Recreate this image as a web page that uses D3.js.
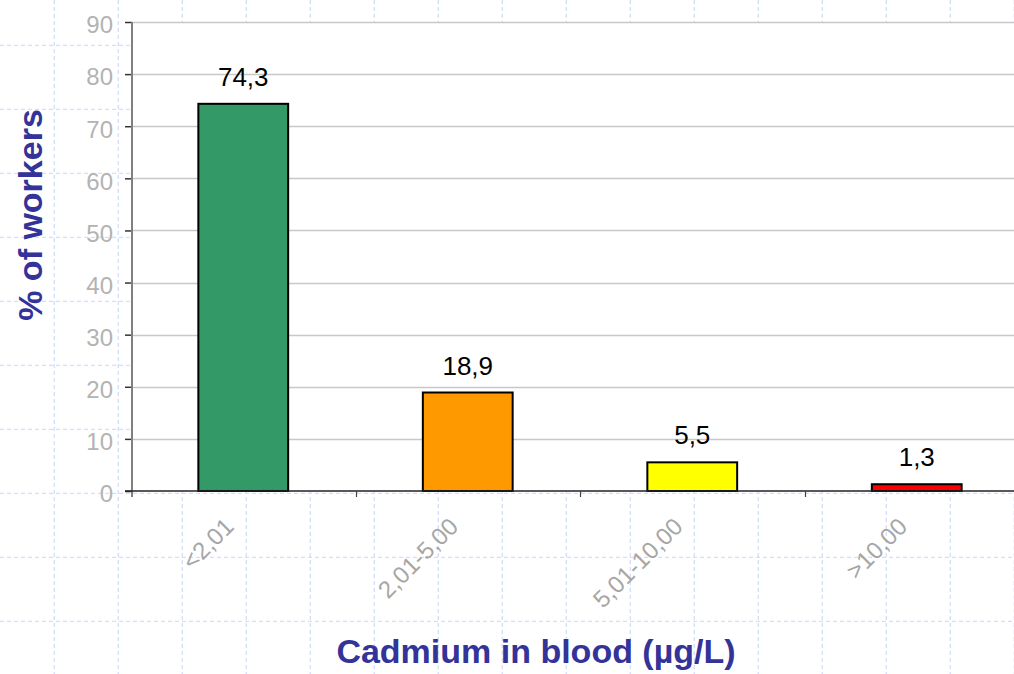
<!DOCTYPE html>
<html lang="en">
  <head>
    <meta charset="utf-8">
    <title>Cadmium in blood</title>
    <script src="https://d3js.org/d3.v7.min.js"></script>
    <style type="text/css">
      body {
        margin: 0;
        background: white;
        font-family: "Liberation Sans", Arial, sans-serif;
      }
      .title {
        fill: #333399;
        font-weight: bold;
        font-size: 34px;
      }
    </style>
  </head>
  <body>
    <script>
      var width = 1014;
      var height = 674;

      // chart data
      var categories = ["<2,01", "2,01-5,00", "5,01-10,00", ">10,00"];
      var values = [74.3, 18.9, 5.5, 1.3];
      var barColors = ["#339966", "#ff9900", "#ffff00", "#ff0000"];
      var yTicks = [0, 10, 20, 30, 40, 50, 60, 70, 80, 90];

      var plotLeft = 132, plotTop = 22, plotBottom = 491;

      var svg = d3.select("body")
        .append("svg")
        .attr("width", width)
        .attr("height", height);

      // slide background: pale dashed grid
      var bg = svg.append("g");
      bg.selectAll("line.v")
        .data(d3.range(-10, width + 64, 64))
        .enter()
        .append("line")
        .attr("x1", function(d) { return d + 0.3; })
        .attr("x2", function(d) { return d + 0.3; })
        .attr("y1", 0)
        .attr("y2", height)
        .attr("stroke", "#d3defd")
        .attr("stroke-width", 1.3)
        .attr("stroke-dasharray", "4,3");
      bg.selectAll("line.h")
        .data(d3.range(-19, height + 64, 64))
        .enter()
        .append("line")
        .attr("y1", function(d) { return d + 0.3; })
        .attr("y2", function(d) { return d + 0.3; })
        .attr("x1", 0)
        .attr("x2", width)
        .attr("stroke", "#d3defd")
        .attr("stroke-width", 1.3)
        .attr("stroke-dasharray", "4,3");

      // scales
      var y = d3.scaleLinear().domain([0, 90]).range([plotBottom, plotTop]);
      var x = d3.scaleBand().domain(categories).range([131, 1029]).padding(0);

      // plot area
      svg.append("rect")
        .attr("x", plotLeft)
        .attr("y", plotTop)
        .attr("width", width - plotLeft)
        .attr("height", plotBottom - plotTop)
        .attr("fill", "white");

      // horizontal gridlines
      svg.append("g")
        .selectAll("line")
        .data(yTicks.slice(1))
        .enter()
        .append("line")
        .attr("x1", plotLeft)
        .attr("x2", width)
        .attr("y1", function(d) { return Math.round(y(d)) + 0.5; })
        .attr("y2", function(d) { return Math.round(y(d)) + 0.5; })
        .attr("stroke", "#c8c8c8")
        .attr("stroke-width", 1.5);

      // bars
      var bw = x.bandwidth() * 0.4;
      svg.append("g")
        .selectAll("rect")
        .data(values)
        .enter()
        .append("rect")
        .attr("x", function(d, i) { return x(categories[i]) + (x.bandwidth() - bw) / 2; })
        .attr("y", function(d) { return y(d); })
        .attr("width", bw)
        .attr("height", function(d) { return plotBottom - y(d); })
        .attr("fill", function(d, i) { return barColors[i]; })
        .attr("stroke", "black")
        .attr("stroke-width", 2);

      // value labels
      svg.append("g")
        .selectAll("text")
        .data(values)
        .enter()
        .append("text")
        .attr("x", function(d, i) { return x(categories[i]) + x.bandwidth() / 2; })
        .attr("y", function(d) { return y(d) - 18; })
        .attr("text-anchor", "middle")
        .attr("font-size", "26px")
        .attr("fill", "black")
        .text(function(d) { return String(d).replace(".", ","); });

      // y axis
      var yAxis = svg.append("g")
        .attr("transform", "translate(" + plotLeft + ",0)")
        .call(d3.axisLeft(y).tickValues(yTicks).tickSize(7).tickSizeOuter(0).tickPadding(12));
      yAxis.select(".domain").remove();
      yAxis.selectAll(".tick line").attr("stroke", "#333").attr("stroke-width", 1.5);
      yAxis.selectAll(".tick text")
        .attr("fill", "#b3b3b3")
        .attr("font-size", "24px")
        .attr("font-family", "Liberation Sans, Arial, sans-serif")
        .attr("dy", "0.45em");
      svg.append("line")
        .attr("x1", plotLeft).attr("x2", plotLeft)
        .attr("y1", plotTop).attr("y2", plotBottom + 6)
        .attr("stroke", "#808080")
        .attr("stroke-width", 2);

      // x axis
      svg.append("line")
        .attr("x1", 125).attr("x2", width)
        .attr("y1", plotBottom).attr("y2", plotBottom)
        .attr("stroke", "#222")
        .attr("stroke-width", 1.5);
      svg.append("g")
        .selectAll("line")
        .data(categories.slice(1))
        .enter()
        .append("line")
        .attr("x1", function(d) { return Math.round(x(d)) + 0.5; })
        .attr("x2", function(d) { return Math.round(x(d)) + 0.5; })
        .attr("y1", plotBottom)
        .attr("y2", plotBottom + 6)
        .attr("stroke", "#444")
        .attr("stroke-width", 1.2);

      svg.append("g")
        .selectAll("text")
        .data(categories)
        .enter()
        .append("text")
        .attr("transform", function(d) {
          return "translate(" + (x(d) + x.bandwidth() / 2 - 8) + ",528) rotate(-45)";
        })
        .attr("text-anchor", "end")
        .attr("font-size", "24px")
        .attr("fill", "#a6a6a6")
        .text(function(d) { return d; });

      // axis titles
      svg.append("text")
        .attr("class", "title")
        .attr("transform", "translate(42,215) rotate(-90)")
        .attr("text-anchor", "middle")
        .text("% of workers");

      svg.append("text")
        .attr("class", "title")
        .attr("x", 536)
        .attr("y", 663)
        .attr("text-anchor", "middle")
        .text("Cadmium in blood (\u00b5g/L)");
    </script>
  </body>
</html>
